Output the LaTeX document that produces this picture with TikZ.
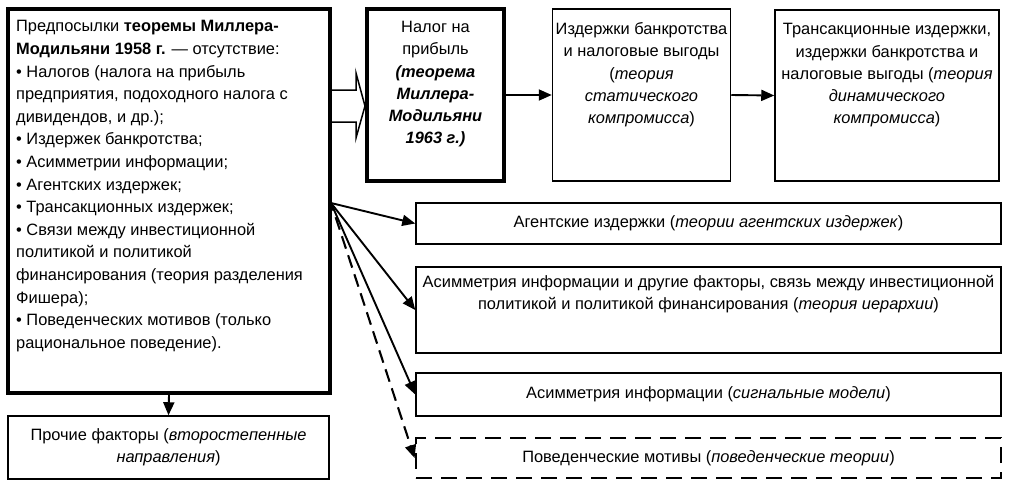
\documentclass[tikz,border=0pt]{standalone}
\usepackage{fontspec}
\setmainfont{Liberation Sans}
\usetikzlibrary{arrows.meta,calc}
\begin{document}
\begin{tikzpicture}[x=1pt,y=-1pt,
  thinbox/.style={draw, line width=1.5pt, inner sep=0pt},
  thickbox/.style={draw, line width=4pt, inner sep=0pt},
  dashbox/.style={draw, line width=2.8pt, inner sep=0pt, dash pattern=on 16pt off 9pt},
  txt/.style={font=\fontsize{16.4}{22.3}\selectfont, inner sep=0pt, align=center},
  ltxt/.style={font=\fontsize{16.4}{22.6}\selectfont, inner sep=0pt, align=left},
  arr/.style={line width=1.9pt, -{Triangle[length=13pt,width=11pt]}},
  darr/.style={arr, dash pattern=on 13pt off 7pt, dash phase=5pt, line width=2.1pt},
]
\useasboundingbox[fill=white] (0,0) rectangle (1010,488);

% boxes
\node[thickbox, minimum width=322pt, minimum height=384pt] (L) at (169,201) {};
\node[thinbox, minimum width=321pt, minimum height=63pt, txt] (P) at (168.5,447.5)
  {Прочие факторы (\textit{второстепенные}\\\textit{направления})};
\node[thickbox, minimum width=137pt, minimum height=172pt] (N) at (435.5,95) {};
\node[thinbox, minimum width=178pt, minimum height=172pt] (I) at (641.5,95) {};
\node[thinbox, minimum width=224pt, minimum height=171pt] (T) at (887,95.5) {};
\node[thinbox, minimum width=585pt, minimum height=41pt, txt] (A1) at (708.5,223.5)
  {Агентские издержки (\textit{теории агентских издержек})};
\node[thinbox, minimum width=585pt, minimum height=86pt] (A2) at (708.5,310) {};
\node[thinbox, minimum width=585pt, minimum height=43pt, txt] (A3) at (708.5,394.5)
  {Асимметрия информации (\textit{сигнальные модели})};
\node[dashbox, minimum width=585pt, minimum height=40pt, txt] (A4) at (708.5,458)
  {Поведенческие мотивы (\textit{поведенческие теории})};

% texts
\node[ltxt, anchor=north west] (Lt) at (16,20.5)
  {Предпосылки \textbf{теоремы Миллера-}\\
   \textbf{Модильяни 1958 г.} — отсутствие:\\
   • Налогов (налога на прибыль\\
   предприятия, подоходного налога с\\
   дивидендов, и др.);\\
   • Издержек банкротства;\\
   • Асимметрии информации;\\
   • Агентских издержек;\\
   • Трансакционных издержек;\\
   • Связи между инвестиционной\\
   политикой и политикой\\
   финансирования (теория разделения\\
   Фишера);\\
   • Поведенческих мотивов (только\\
   рациональное поведение).};
\node[txt, anchor=north] (Nt) at ($(N.north)+(0,14)$)
  {Налог на\\прибыль\\\textbf{\textit{(теорема}}\\\textbf{\textit{Миллера-}}\\\textbf{\textit{Модильяни}}\\\textbf{\textit{1963 г.)}}};
\node[txt, anchor=north] (It) at ($(I.north)+(0,14)$)
  {Издержки банкротства\\и налоговые выгоды\\(\textit{теория}\\\textit{статического}\\\textit{компромисса})};
\node[txt, anchor=north] (Tt) at ($(T.north)+(0,14)$)
  {Трансакционные издержки,\\издержки банкротства и\\налоговые выгоды (\textit{теория}\\\textit{динамического}\\\textit{компромисса})};
\node[txt, anchor=north] (A2t) at ($(A2.north)+(0,8.5)$)
  {Асимметрия информации и другие факторы, связь между инвестиционной\\политикой и политикой финансирования (\textit{теория иерархии})};

% hollow block arrow
\coordinate (ha) at (0,90);
\coordinate (hb) at (0,122);
\coordinate (hm) at (0,106);
\draw[line width=1.5pt, line join=miter, fill=white]
  (L.east|-ha) -- (356,90) -- (356,73) -- (N.west|-hm) -- (356,138) -- (356,122) -- (L.east|-hb);

% connectors
\draw[arr] (N.east) -- (I.west);
\draw[arr] (I.east) -- (T.west);
\draw[arr] (L.south) -- (P.north);
\coordinate (fan) at (331,203);
\draw[arr] (fan) -- (A1.west);
\draw[arr] (fan) -- (A2.west);
\draw[arr] (fan) -- (A3.west);
\draw[darr] (fan) -- (A4.west);
\end{tikzpicture}
\end{document}
